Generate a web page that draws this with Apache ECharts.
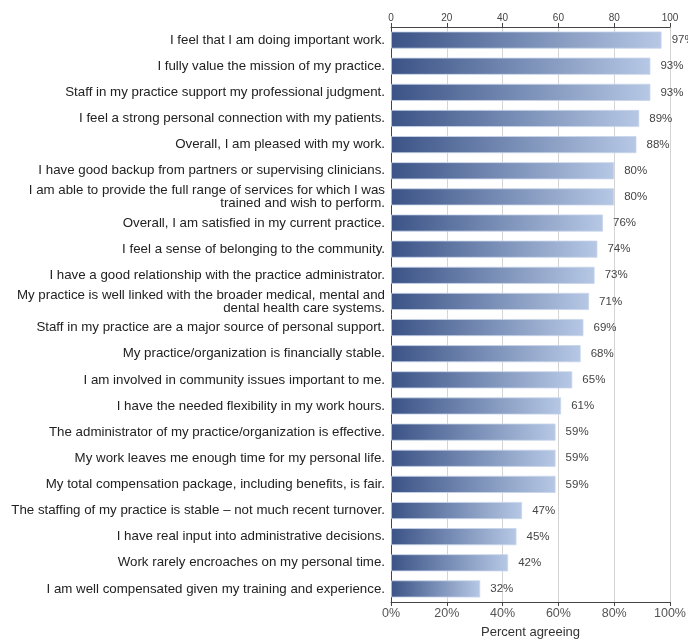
<!DOCTYPE html>
<html>
<head>
<meta charset="utf-8">
<script src="https://cdn.jsdelivr.net/npm/echarts@6/dist/echarts.min.js"></script>
<style>html,body{margin:0;padding:0;background:#fff}#c{width:688px;height:640px}</style>
</head>
<body>
<div id="c"></div>
<script>
var categories = [
  "I feel that I am doing important work.",
  "I fully value the mission of my practice.",
  "Staff in my practice support my professional judgment.",
  "I feel a strong personal connection with my patients.",
  "Overall, I am pleased with my work.",
  "I have good backup from partners or supervising clinicians.",
  "I am able to provide the full range of services for which I was\ntrained and wish to perform.",
  "Overall, I am satisfied in my current practice.",
  "I feel a sense of belonging to the community.",
  "I have a good relationship with the practice administrator.",
  "My practice is well linked with the broader medical, mental and\ndental health care systems.",
  "Staff in my practice are a major source of personal support.",
  "My practice/organization is financially stable.",
  "I am involved in community issues important to me.",
  "I have the needed flexibility in my work hours.",
  "The administrator of my practice/organization is effective.",
  "My work leaves me enough time for my personal life.",
  "My total compensation package, including benefits, is fair.",
  "The staffing of my practice is stable \u2013 not much recent turnover.",
  "I have real input into administrative decisions.",
  "Work rarely encroaches on my personal time.",
  "I am well compensated given my training and experience."
];
var values = [97, 93, 93, 89, 88, 80, 80, 76, 74, 73, 71, 69, 68, 65, 61, 59, 59, 59, 47, 45, 42, 32];
var topTicks = [0, 20, 40, 60, 80, 100];
var axisTitle = "Percent agreeing";

var chart = echarts.init(document.getElementById('c'), null, {renderer: 'canvas'});
var font = 'Liberation Sans, Arial, sans-serif';
chart.setOption({
  animation: false,
  backgroundColor: '#fff',
  grid: {left: 391, right: 18, top: 27, bottom: 38, containLabel: false, outerBoundsMode: 'none'},
  xAxis: [
    {
      type: 'value', position: 'top', min: 0, max: 100, interval: 20,
      axisLine: {show: true, lineStyle: {color: '#444', width: 1}},
      axisTick: {show: true, length: 4, lineStyle: {color: '#444'}},
      axisLabel: {color: '#444', fontSize: 10, fontFamily: font, margin: 4},
      splitLine: {show: true, lineStyle: {color: '#d4d4d4', width: 1}}
    },
    {
      type: 'value', position: 'bottom', min: 0, max: 100, interval: 20,
      name: axisTitle, nameLocation: 'middle', nameGap: 24,
      nameTextStyle: {color: '#333', fontSize: 13, fontFamily: font},
      axisLine: {show: true, lineStyle: {color: '#444', width: 1}},
      axisTick: {show: true, length: 4, lineStyle: {color: '#444'}},
      axisLabel: {color: '#555', fontSize: 12.5, fontFamily: font, margin: 5, formatter: '{value}%'},
      splitLine: {show: false}
    }
  ],
  yAxis: {
    type: 'category', data: categories, inverse: true,
    axisLine: {show: true, lineStyle: {color: '#444', width: 1}},
    axisTick: {show: false},
    axisLabel: {color: '#222', fontSize: 13.3, fontFamily: font, margin: 6, lineHeight: 13, align: 'right'}
  },
  series: [{
    type: 'bar', data: values, xAxisIndex: 0,
    barCategoryGap: '34%',
    itemStyle: {
      color: new echarts.graphic.LinearGradient(0, 0, 1, 0, [
        {offset: 0, color: '#3b5386'},
        {offset: 1, color: '#b6c8e5'}
      ]),
      borderColor: 'rgba(200,212,235,0.8)', borderWidth: 1
    },
    label: {show: true, position: 'right', distance: 10, formatter: '{c}%',
            color: '#444', fontSize: 11.5, fontFamily: font}
  }]
});
</script>
</body>
</html>
